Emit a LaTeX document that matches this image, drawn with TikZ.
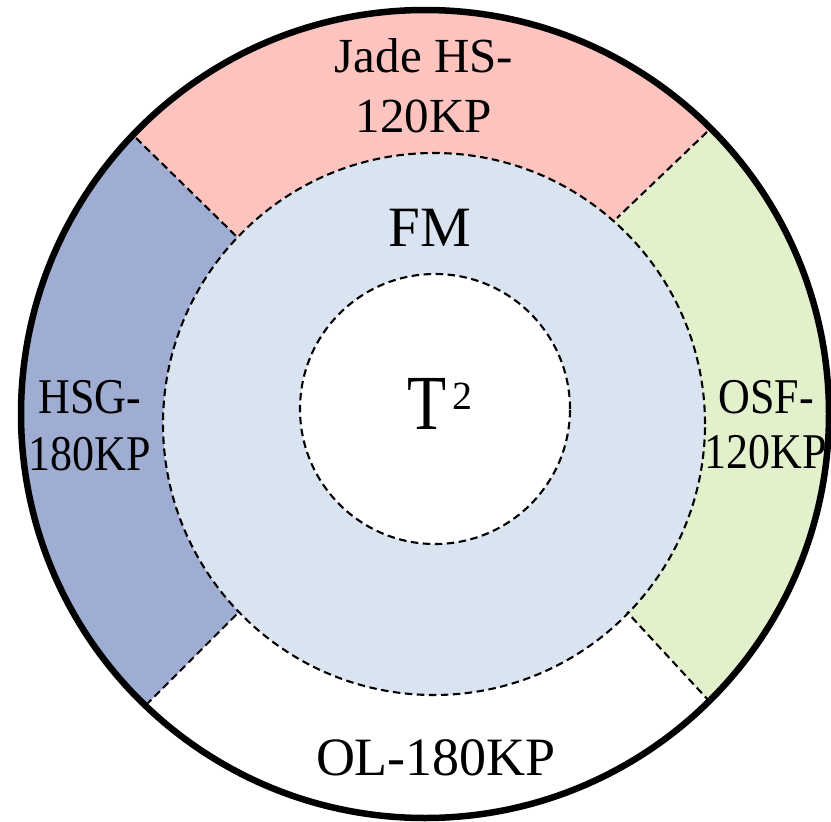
\documentclass[tikz,border=0pt]{standalone}
\usepackage{fontspec}
\setmainfont{Liberation Serif}
\usepackage{graphicx}

\definecolor{jadepink}{HTML}{FCC3BF}
\definecolor{hsgblue}{HTML}{9FADD3}
\definecolor{osfgreen}{HTML}{E2F0CC}
\definecolor{fmblue}{HTML}{DAE4F1}

\newcommand{\squeeze}[2]{\scalebox{#1}[1]{#2}}

\tikzset{
  ringline/.style={line width=6.5pt},
  dashline/.style={line width=2.1pt, dash pattern=on 7.5pt off 4.5pt},
  label/.style={inner sep=0pt, align=center, anchor=base, text=black}
}

\begin{document}
\begin{tikzpicture}[x=1pt,y=-1pt]
  \useasboundingbox (0,0) rectangle (831,822);
  \fill[white] (0,0) rectangle (831,822);

  % centres of the three circles
  \coordinate (oc) at (425,414);
  \coordinate (mc) at (434,424);
  \coordinate (ic) at (435,409);

  % ends of the four dividers (outer ring end, inner ring end)
  \coordinate (tlo) at (136,138);  \coordinate (tli) at (236,236);
  \coordinate (tro) at (707,132);  \coordinate (tri) at (617,218);
  \coordinate (blo) at (146,705);  \coordinate (bli) at (238,613);
  \coordinate (bro) at (710,702);  \coordinate (bri) at (627,612);

  % coloured sectors of the outer ring
  \begin{scope}
    \clip (oc) circle[radius=404pt];
    \fill[jadepink] (mc) -- (tli) -- (86,89) -- (86,-50) -- (760,-50)
                    -- (752,89) -- (tri) -- cycle;
    \fill[osfgreen] (mc) -- (tri) -- (752,89) -- (900,89) -- (900,750)
                    -- (751,747) -- (bri) -- cycle;
    \fill[hsgblue]  (mc) -- (tli) -- (86,89) -- (-50,89) -- (-50,750)
                    -- (100,751) -- (bli) -- cycle;
  \end{scope}

  % FM ring and T^2 core
  \fill[fmblue] (mc) circle[radius=271pt];
  \draw[dashline] (mc) circle[radius=271pt];
  \fill[white] (ic) circle[radius=135pt];
  \draw[dashline] (ic) circle[radius=135pt];

  % dividers between the sectors
  \draw[dashline] (tlo) -- (tli);
  \draw[dashline] (tro) -- (tri);
  \draw[dashline] (blo) -- (bli);
  \draw[dashline] (bro) -- (bri);

  % outer boundary
  \draw[ringline] (oc) circle[radius=404pt];

  % labels (anchored at the baseline of their last line)
  \node[label, font=\fontsize{49}{60.5}\selectfont] (jade) at (424,132.5)
    {Jade HS-\\120KP};
  \node[label, font=\fontsize{57}{60}\selectfont] (fm) at (430,246) {FM};
  \node[label, font=\fontsize{78}{78}\selectfont] (t2) at (440,429)
    {\squeeze{0.82}{T}\hspace{6pt}\raisebox{20pt}{\fontsize{40}{40}\selectfont 2}};
  \node[label, font=\fontsize{50}{57}\selectfont] (hsg) at (90,470)
    {\squeeze{0.88}{HSG-}\\\squeeze{0.88}{180KP}};
  \node[label, font=\fontsize{50}{55}\selectfont] (osf) at (766,468)
    {\squeeze{0.88}{OSF-}\\\squeeze{0.88}{120KP}};
  \node[label, font=\fontsize{54}{54}\selectfont] (ol) at (436,775) {OL-180KP};
\end{tikzpicture}
\end{document}
